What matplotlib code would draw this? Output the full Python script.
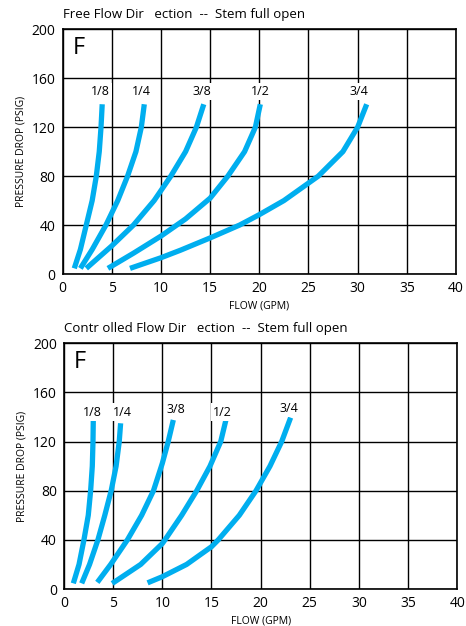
import matplotlib
matplotlib.use('Agg')
import matplotlib.pyplot as plt

plt.rcParams['font.family'] = ['Open Sans', 'DejaVu Sans']

# curve labels (orifice sizes)
sizes = ['1/8', '1/4', '3/8', '1/2', '3/4']

# Free flow direction: flow (GPM) and pressure drop (PSIG)
free_q = {
    '1/8': [1.18, 1.8, 2.4, 3.0, 3.42, 3.72, 3.9, 4.02],
    '1/4': [1.8, 3.0, 4.4, 5.6, 6.6, 7.45, 8.0, 8.3],
    '3/8': [2.4, 5.0, 7.2, 9.3, 11.0, 12.5, 13.6, 14.35],
    '1/2': [4.6, 7.2, 10.0, 12.5, 15.0, 16.8, 18.5, 19.6, 20.1],
    '3/4': [6.85, 10.0, 12.0, 15.0, 18.0, 20.0, 22.5, 26.0, 28.5, 30.0, 30.92],
}
free_p = {
    '1/8': [4.6, 20, 40, 60, 80, 100, 120, 138.7],
    '1/4': [4.6, 20, 40, 60, 80, 100, 120, 138.7],
    '3/8': [4.6, 23, 40, 60, 80, 100, 120, 138.7],
    '1/2': [4.6, 17, 31, 45, 62, 80, 100, 120, 138.7],
    '3/4': [4.6, 13.3, 19.5, 29.5, 40, 48.5, 60, 80, 100, 120, 138.7],
}
free_lbl_x = [3.8, 8.0, 14.2, 20.1, 30.1]
free_lbl_y = [149, 149, 149, 149, 149]

# Controlled flow direction
ctrl_q = {
    '1/8': [0.95, 1.53, 2.03, 2.47, 2.71, 2.88, 2.95, 2.98],
    '1/4': [1.8, 2.6, 3.45, 4.15, 4.8, 5.3, 5.62, 5.76],
    '3/8': [3.39, 4.75, 6.45, 7.9, 9.1, 10.0, 10.6, 11.12],
    '1/2': [4.9, 7.8, 10.0, 10.27, 11.97, 13.5, 14.85, 15.94, 16.47],
    '3/4': [8.5, 10.0, 12.47, 15.0, 15.69, 17.83, 19.53, 20.95, 22.14, 23.05],
}
ctrl_p = {
    '1/8': [4.6, 20, 40, 60, 80, 100, 120, 137.6],
    '1/4': [4.6, 20, 40, 60, 80, 100, 120, 134.9],
    '3/8': [5.4, 20, 40, 60, 80, 102.3, 120, 137.6],
    '1/2': [4.5, 20, 37, 40, 60, 80, 100, 120, 137.6],
    '3/4': [5, 10, 20, 34.4, 40, 60, 80, 100, 120, 139.5],
}
ctrl_lbl_x = [2.9, 5.9, 11.4, 16.1, 22.85]
ctrl_lbl_y = [144, 144, 146, 144, 147]

x_ticks = [0, 5, 10, 15, 20, 25, 30, 35, 40]
y_ticks = [0, 40, 80, 120, 160, 200]

blue = '#00AEEF'

fig = plt.figure(figsize=(4.66, 6.26), dpi=100)


def draw_panel(ax, q, p, lx, ly):
    ax.set_xlim(0, 40)
    ax.set_ylim(0, 200)
    ax.set_xticks(x_ticks)
    ax.set_yticks(y_ticks)
    ax.grid(True, color='black', linewidth=1.0)
    ax.set_axisbelow(True)
    ax.tick_params(length=0, labelsize=10, pad=5)
    for s in ax.spines.values():
        s.set_linewidth(1.2)
    for i, name in enumerate(sizes):
        ax.plot(q[name], p[name], color=blue, lw=3.8, solid_capstyle='butt',
                solid_joinstyle='round', zorder=3)
        ax.text(lx[i], ly[i], name, ha='center', va='center', fontsize=9,
                bbox=dict(facecolor='white', edgecolor='none', pad=1.5), zorder=4)
    ax.text(1.0, 185, 'F', ha='left', va='center', fontsize=17, zorder=4)
    ax.set_ylabel('PRESSURE DROP (PSIG)', fontsize=7.5, labelpad=4)
    ax.set_xlabel('FLOW (GPM)', fontsize=7.5, labelpad=3)


ax1 = fig.add_axes([0.1345, 0.5623, 0.844, 0.391])
draw_panel(ax1, free_q, free_p, free_lbl_x, free_lbl_y)

ax2 = fig.add_axes([0.1373, 0.0591, 0.844, 0.3925])
draw_panel(ax2, ctrl_q, ctrl_p, ctrl_lbl_x, ctrl_lbl_y)

fig.text(0.135, 0.977, 'Free Flow Dir   ection  --  Stem full open',
         ha='left', va='center', fontsize=9.5)
fig.text(0.137, 0.476, 'Contr olled Flow Dir   ection  --  Stem full open',
         ha='left', va='center', fontsize=9.5)

fig.savefig('out.png', dpi=100)
